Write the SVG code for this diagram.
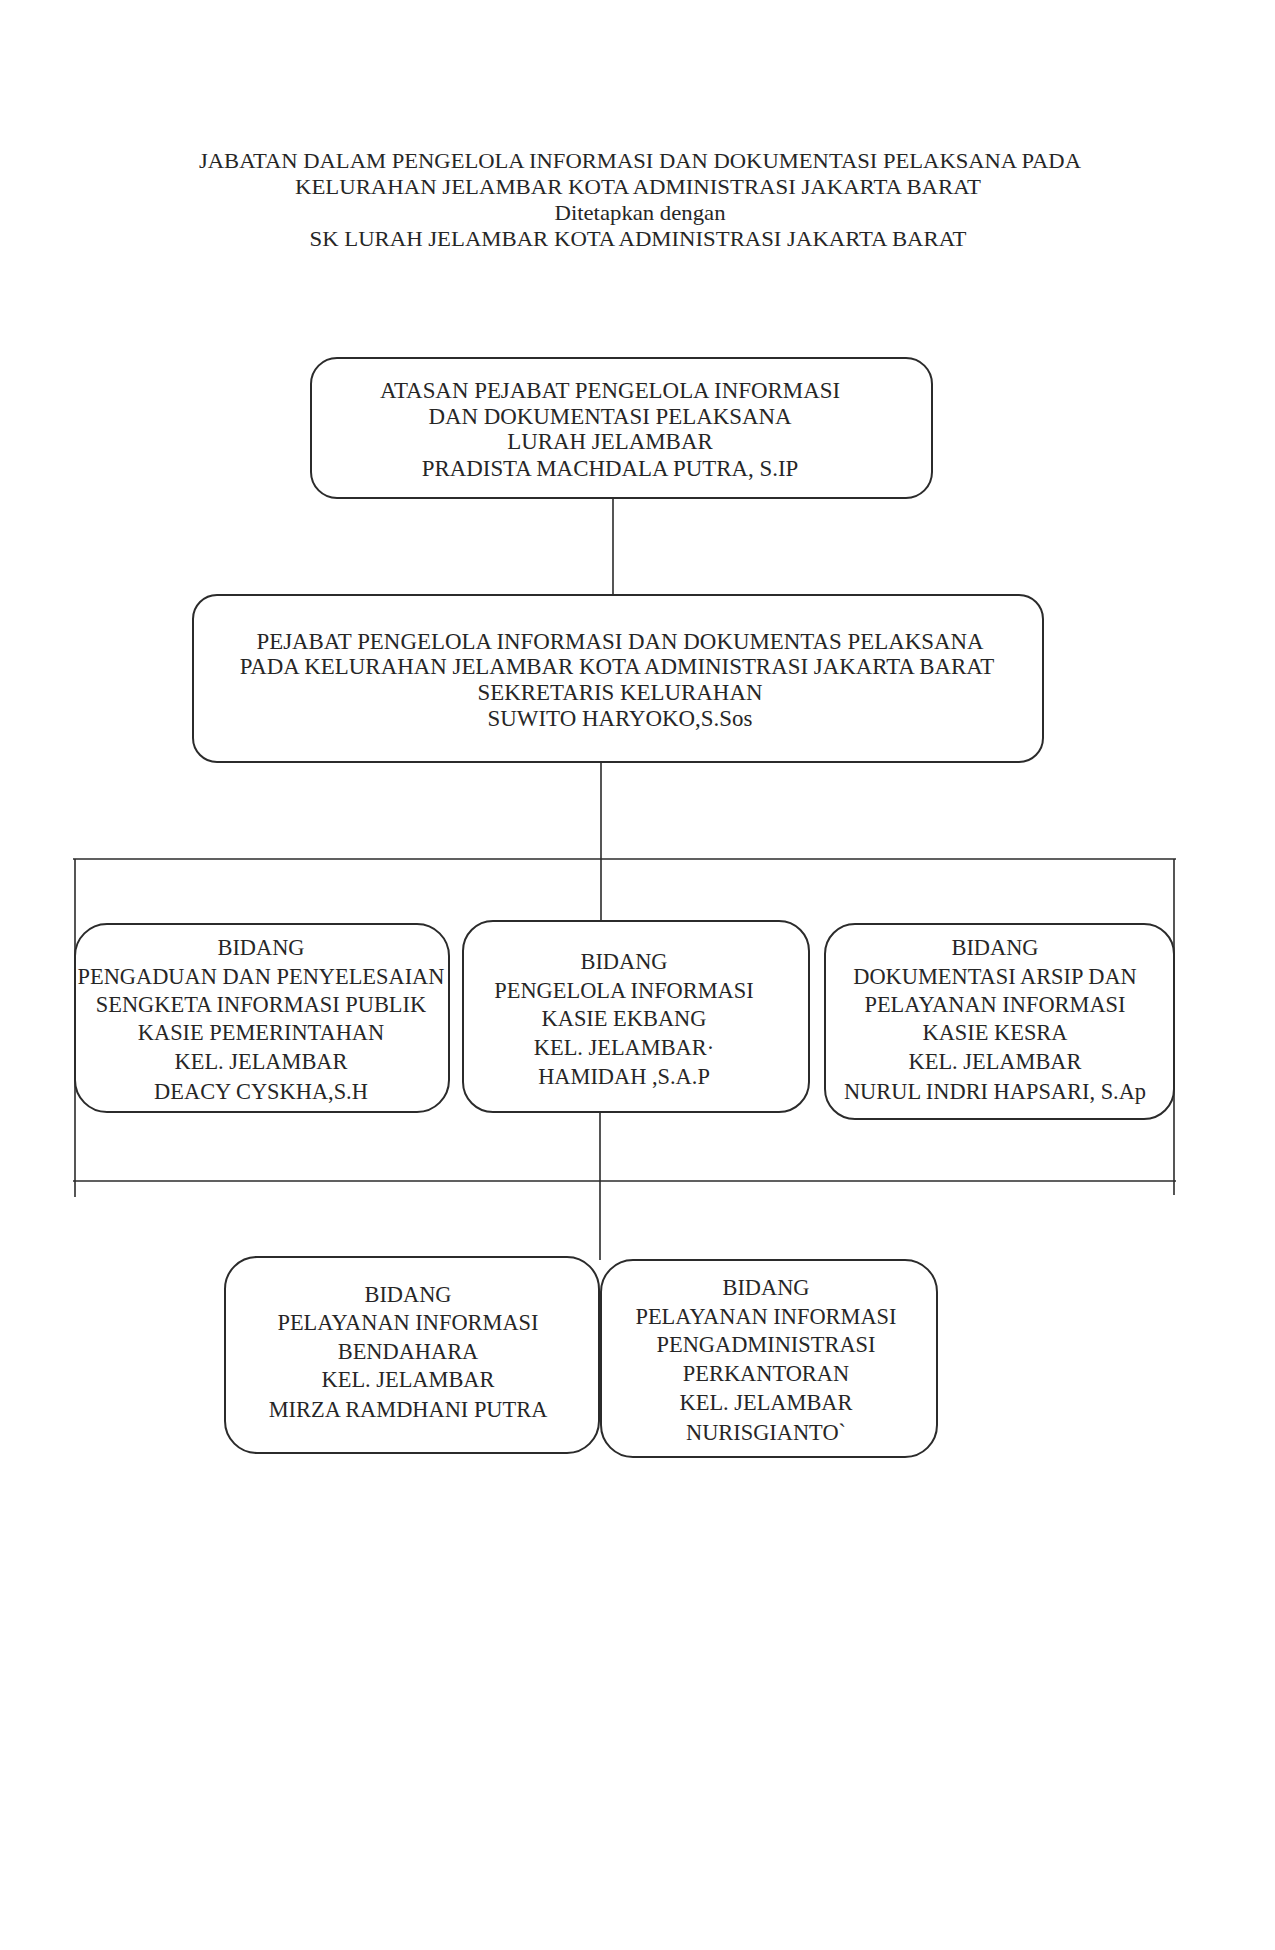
<svg xmlns="http://www.w3.org/2000/svg" width="1275" height="1950" viewBox="0 0 1275 1950">
<style>
.bg{fill:#ffffff}
.box{fill:none;stroke:#2b2b2b;stroke-width:2}
.ln{stroke:#2b2b2b;stroke-width:1.6;fill:none}
text{font-family:"Liberation Serif","Times New Roman",serif;fill:#262626;text-anchor:middle}
.t{font-size:21px}
.a{font-size:22.9px}
.b{font-size:22.4px}
</style>
<rect class="bg" x="0" y="0" width="1275" height="1950"/>
<g id="title">
<text class="t" x="640" y="168" textLength="882" lengthAdjust="spacingAndGlyphs">JABATAN DALAM PENGELOLA INFORMASI DAN DOKUMENTASI PELAKSANA PADA</text>
<text class="t" x="638" y="194" textLength="686" lengthAdjust="spacingAndGlyphs">KELURAHAN JELAMBAR KOTA ADMINISTRASI JAKARTA BARAT</text>
<text class="t" x="640" y="220" textLength="171" lengthAdjust="spacingAndGlyphs">Ditetapkan dengan</text>
<text class="t" x="638" y="246" textLength="657" lengthAdjust="spacingAndGlyphs">SK LURAH JELAMBAR KOTA ADMINISTRASI JAKARTA BARAT</text>
</g>
<g id="connectors">
<line class="ln" x1="613" y1="498" x2="613" y2="595"/>
<line class="ln" x1="601" y1="762" x2="601" y2="922"/>
<line class="ln" x1="73" y1="859" x2="1176" y2="859"/>
<line class="ln" x1="75" y1="859" x2="75" y2="1197"/>
<line class="ln" x1="1174" y1="859" x2="1174" y2="1195"/>
<line class="ln" x1="73" y1="1181" x2="1176" y2="1181"/>
<line class="ln" x1="600" y1="1112" x2="600" y2="1260"/>
</g>
<g id="node-atasan">
<rect class="box" x="311" y="358" width="621" height="140" rx="26"/>
<text class="a" x="610"><tspan x="610" y="398">ATASAN PEJABAT PENGELOLA INFORMASI</tspan><tspan x="610" y="424">DAN DOKUMENTASI PELAKSANA</tspan><tspan x="610" y="449">LURAH JELAMBAR</tspan><tspan x="610" y="476">PRADISTA MACHDALA PUTRA, S.IP</tspan></text>
</g>
<g id="node-pejabat">
<rect class="box" x="193" y="595" width="850" height="167" rx="24"/>
<text class="a" x="620"><tspan x="620" y="649">PEJABAT PENGELOLA INFORMASI DAN DOKUMENTAS PELAKSANA</tspan><tspan x="617" y="674">PADA KELURAHAN JELAMBAR KOTA ADMINISTRASI JAKARTA BARAT</tspan><tspan x="620" y="700">SEKRETARIS KELURAHAN</tspan><tspan x="620" y="726">SUWITO HARYOKO,S.Sos</tspan></text>
</g>
<g id="node-pengaduan">
<rect class="box" x="75" y="924" width="374" height="188" rx="32"/>
<text class="b" x="261"><tspan x="261" y="955">BIDANG</tspan><tspan x="261" y="984">PENGADUAN DAN PENYELESAIAN</tspan><tspan x="261" y="1012">SENGKETA INFORMASI PUBLIK</tspan><tspan x="261" y="1040">KASIE PEMERINTAHAN</tspan><tspan x="261" y="1069">KEL. JELAMBAR</tspan><tspan x="261" y="1099">DEACY CYSKHA,S.H</tspan></text>
</g>
<g id="node-pengelola">
<rect class="box" x="463" y="921" width="346" height="191" rx="30"/>
<text class="b" x="624"><tspan x="624" y="969">BIDANG</tspan><tspan x="624" y="998">PENGELOLA INFORMASI</tspan><tspan x="624" y="1026">KASIE EKBANG</tspan><tspan x="624" y="1055">KEL. JELAMBAR·</tspan><tspan x="624" y="1084">HAMIDAH ,S.A.P</tspan></text>
</g>
<g id="node-dokumentasi">
<rect class="box" x="825" y="924" width="349" height="195" rx="30"/>
<text class="b" x="995"><tspan x="995" y="955">BIDANG</tspan><tspan x="995" y="984">DOKUMENTASI ARSIP DAN</tspan><tspan x="995" y="1012">PELAYANAN INFORMASI</tspan><tspan x="995" y="1040">KASIE KESRA</tspan><tspan x="995" y="1069">KEL. JELAMBAR</tspan><tspan x="995" y="1099">NURUL INDRI HAPSARI, S.Ap</tspan></text>
</g>
<g id="node-bendahara">
<rect class="box" x="225" y="1257" width="374" height="196" rx="32"/>
<text class="b" x="408"><tspan x="408" y="1302">BIDANG</tspan><tspan x="408" y="1330">PELAYANAN INFORMASI</tspan><tspan x="408" y="1359">BENDAHARA</tspan><tspan x="408" y="1387">KEL. JELAMBAR</tspan><tspan x="408" y="1417">MIRZA RAMDHANI PUTRA</tspan></text>
</g>
<g id="node-pengadministrasi">
<rect class="box" x="601" y="1260" width="336" height="197" rx="32"/>
<text class="b" x="766"><tspan x="766" y="1295">BIDANG</tspan><tspan x="766" y="1324">PELAYANAN INFORMASI</tspan><tspan x="766" y="1352">PENGADMINISTRASI</tspan><tspan x="766" y="1381">PERKANTORAN</tspan><tspan x="766" y="1410">KEL. JELAMBAR</tspan><tspan x="766" y="1440">NURISGIANTO`</tspan></text>
</g>
</svg>
